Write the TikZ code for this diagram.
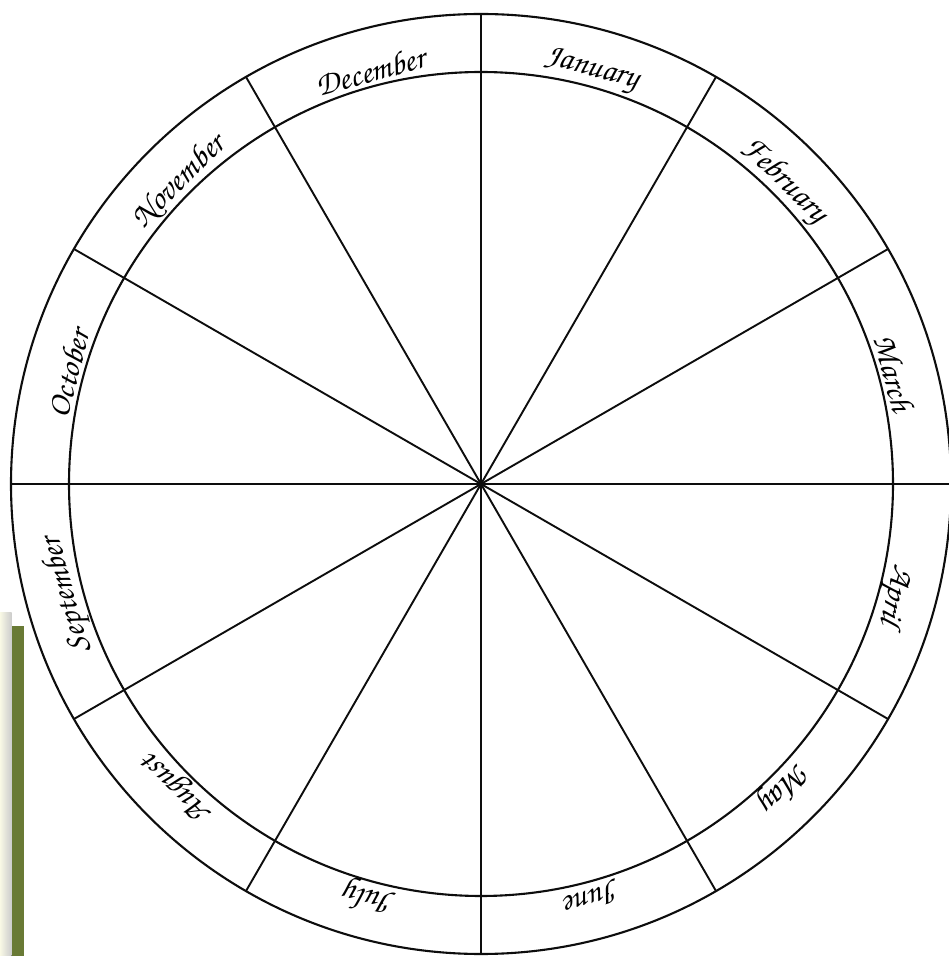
\documentclass[tikz,border=0pt]{standalone}
\usepackage[T1]{fontenc}
\usetikzlibrary{calc}
\begin{document}
\begin{tikzpicture}[x=1pt,y=1pt,
  ring/.style={draw=black!95,line width=2.1pt},
  spoke/.style={draw=black!95,line width=1.9pt},
  month/.style={font=\usefont{T1}{pzc}{mb}{it}\fontsize{33}{36}\selectfont,inner sep=0pt,anchor=center}]
\useasboundingbox (0,0) rectangle (948,956);
\fill[white] (0,0) rectangle (948,956);
% photo strip at lower left
\fill[left color=black!25!yellow!10!white,right color=black!20!white] (0,0) rectangle (11.5,343);
\fill[fill={rgb,255:red,105;green,122;blue,53}] (12,0) rectangle (24,330);
\coordinate (c) at (481,472);
% circles
\draw[ring] (c) circle[radius=470];
\draw[ring] (c) circle[radius=412];
% spokes
\foreach \a in {0,30,...,330}{
  \coordinate (o\a) at ($(c)+(\a:470)$);
  \draw[spoke] (c) -- (o\a);
}
% months
\node[month,rotate=15]   (dec) at ($(c)+(105:428)$) {December};
\node[month,rotate=-15]  (jan) at ($(c)+(75:428)$) {January};
\node[month,rotate=-45]  (feb) at ($(c)+(45:428)$) {February};
\node[month,rotate=-75]  (mar) at ($(c)+(15:428)$) {March};
\node[month,rotate=-105] (apr) at ($(c)+(-15:428)$) {April};
\node[month,rotate=-135] (may) at ($(c)+(-45:428)$) {May};
\node[month,rotate=-165] (jun) at ($(c)+(-75:428)$) {June};
\node[month,rotate=165]  (jul) at ($(c)+(-105:428)$) {July};
\node[month,rotate=135]  (aug) at ($(c)+(-135:428)$) {August};
\node[month,rotate=105]  (sep) at ($(c)+(195:428)$) {September};
\node[month,rotate=75]   (oct) at ($(c)+(165:428)$) {October};
\node[month,rotate=45]   (nov) at ($(c)+(135:428)$) {November};
\end{tikzpicture}
\end{document}
